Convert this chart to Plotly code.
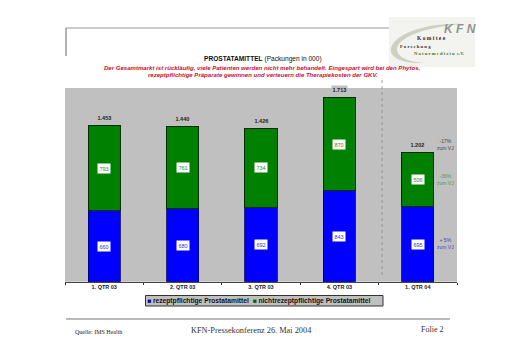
import plotly.graph_objects as go

categories = ["1. QTR 03", "2. QTR 03", "3. QTR 03", "4. QTR 03", "1. QTR 04"]
rezept = [660, 680, 692, 843, 695]
nicht = [793, 761, 734, 870, 506]
totals = [1453, 1440, 1426, 1713, 1202]
total_labels = ["1.453", "1.440", "1.426", "1.713", "1.202"]
W, H = 512, 362
def X(p): return p / W
def Y(p): return 1 - p / H

fig = go.Figure()
fig.add_bar(name="rezeptpflichtige Prostatamittel", x=categories, y=rezept, showlegend=False,
            marker=dict(color="#0000FF", line=dict(color="#000060", width=0.8)))
fig.add_bar(name="nichtrezeptpflichtige Prostatamittel", x=categories, y=nicht, showlegend=False,
            marker=dict(color="#008000", line=dict(color="#003000", width=1)))

ann = []
for c, r, n, t, tl in zip(categories, rezept, nicht, totals, total_labels):
    ann.append(dict(x=c, y=r / 2, text=str(r), font=dict(color="#3333BB", size=5.5, family="Liberation Sans"), bgcolor="white", showarrow=False, borderpad=1.5, xref="x", yref="y"))
    ann.append(dict(x=c, y=r + n / 2, text=str(n), font=dict(color="#338833", size=5.5, family="Liberation Sans"), bgcolor="white", showarrow=False, borderpad=1.5, xref="x", yref="y"))
    ann.append(dict(x=c, y=t, yshift=8, text="<b>%s</b>" % tl, font=dict(color="#222222", size=5.5, family="Liberation Sans"), bgcolor="#C0C0C0", showarrow=False, borderpad=0.5, xref="x", yref="y"))

def txt(px, py, s, size, color="#222222", family="Liberation Sans", **kw):
    ann.append(dict(x=X(px), y=Y(py), xref="paper", yref="paper", xanchor="center", yanchor="middle", text=s, showarrow=False, font=dict(size=size, color=color, family=family), **kw))

txt(262.5, 58.7, "<b>PROSTATAMITTEL</b> (Packungen in 000)", 6.6, "#111111")
txt(262.5, 67.5, "<b><i>Der Gesamtmarkt ist rückläufig, viele Patienten werden nicht mehr behandelt. Eingespart wird bei den Phytos,</i></b>", 6.05, "#C8102E")
txt(262.5, 75, "<b><i>rezeptpflichtige Präparate gewinnen und verteuern die Therapiekosten der GKV.</i></b>", 6.05, "#C8102E")
txt(445, 144, "-17%<br>zum VJ", 5, "#444444")
txt(445.5, 179, "-36%<br>zum VJ", 5, "#4E9A4E")
txt(445.5, 243, "+ 5%<br>zum VJ", 5, "#4444BB")
txt(98, 331.5, "Quelle: IMS Health", 6, "#222222", "Liberation Serif")
txt(251.5, 330, "KFN-Pressekonferenz 26. Mai 2004", 8.3, "#333333", "Liberation Serif")
txt(432, 329, "Folie 2", 8, "#333333", "Liberation Serif")
# legend built as text so its squares stay small, as in the reference
txt(258, 300.5, "<b><span style='color:#0000C0'>■</span> rezeptpflichtige Prostatamittel  <span style='color:#006000'>■</span> nichtrezeptpflichtige Prostatamittel</b>", 6.7, "#111111")
# logo
txt(459.5, 29, "<b><i>K F N</i></b>", 12, "#8F948F")
txt(431, 38, "<b>K o m i t e e</b>", 5.5, "#2A2A2A", "Liberation Serif")
txt(415, 46, "<b>F o r s c h u n g</b>", 4.7, "#2A2A2A", "Liberation Serif")
txt(439, 54, "<b>N a t u r m e d i z i n  e.V.</b>", 4.7, "#4E6B2E", "Liberation Serif")

def line(x0, y0, x1, y1, color="#777777", width=1, dash=None):
    return dict(type="line", xref="paper", yref="paper", x0=X(x0), y0=Y(y0), x1=X(x1), y1=Y(y1), line=dict(color=color, width=width, dash=dash))
def P(x, y): return "%.4f,%.4f" % (X(x), Y(y))

swoosh = ("M " + P(462, 24) + " C " + P(420, 22) + " " + P(388, 38) + " " + P(391, 52)
          + " C " + P(393, 60) + " " + P(408, 64) + " " + P(425, 63)
          + " C " + P(408, 62) + " " + P(397, 57) + " " + P(397, 49)
          + " C " + P(397, 38) + " " + P(425, 27) + " " + P(462, 24) + " Z")
shapes = [
    line(66, 28, 389, 28, "#999999"),
    line(66, 28, 66, 56, "#666666"),
    line(66, 319, 450, 319, "#777777", 1.2),
    line(382, 80, 382, 278, "#888888", 0.8, "dot"),
    dict(type="rect", xref="paper", yref="paper", x0=X(389), x1=X(475), y0=Y(67), y1=Y(17), fillcolor="#F3F4F0", line=dict(width=0), layer="below"),
    dict(type="path", xref="paper", yref="paper", path=swoosh, fillcolor="#CDD1C2", line=dict(width=0), layer="below"),
    dict(type="rect", xref="paper", yref="paper", x0=X(145.5), x1=X(383), y0=Y(306), y1=Y(295.5), fillcolor="#C0C0C0", line=dict(color="#333333", width=1)),
]

fig.update_layout(
    width=W, height=H, margin=dict(l=0, r=0, t=0, b=0), autosize=False,
    paper_bgcolor="white", plot_bgcolor="#C0C0C0", barmode="stack", bargap=0.59, showlegend=False,
    annotations=ann, shapes=shapes,
    xaxis=dict(domain=[X(65), X(457)], tickson="boundaries", ticks="outside", ticklen=2, tickcolor="#333333",
               tickfont=dict(size=5.5, color="#222222", family="Liberation Sans"), showline=True, linecolor="#444444",
               tickprefix="<b>", ticksuffix="</b>", showgrid=False),
    yaxis=dict(domain=[Y(281.7), Y(88)], range=[0, 1800], visible=False, showgrid=False),
)
fig.write_html("out.html", config=dict(displayModeBar=False), post_script="document.body.style.margin='0';")
